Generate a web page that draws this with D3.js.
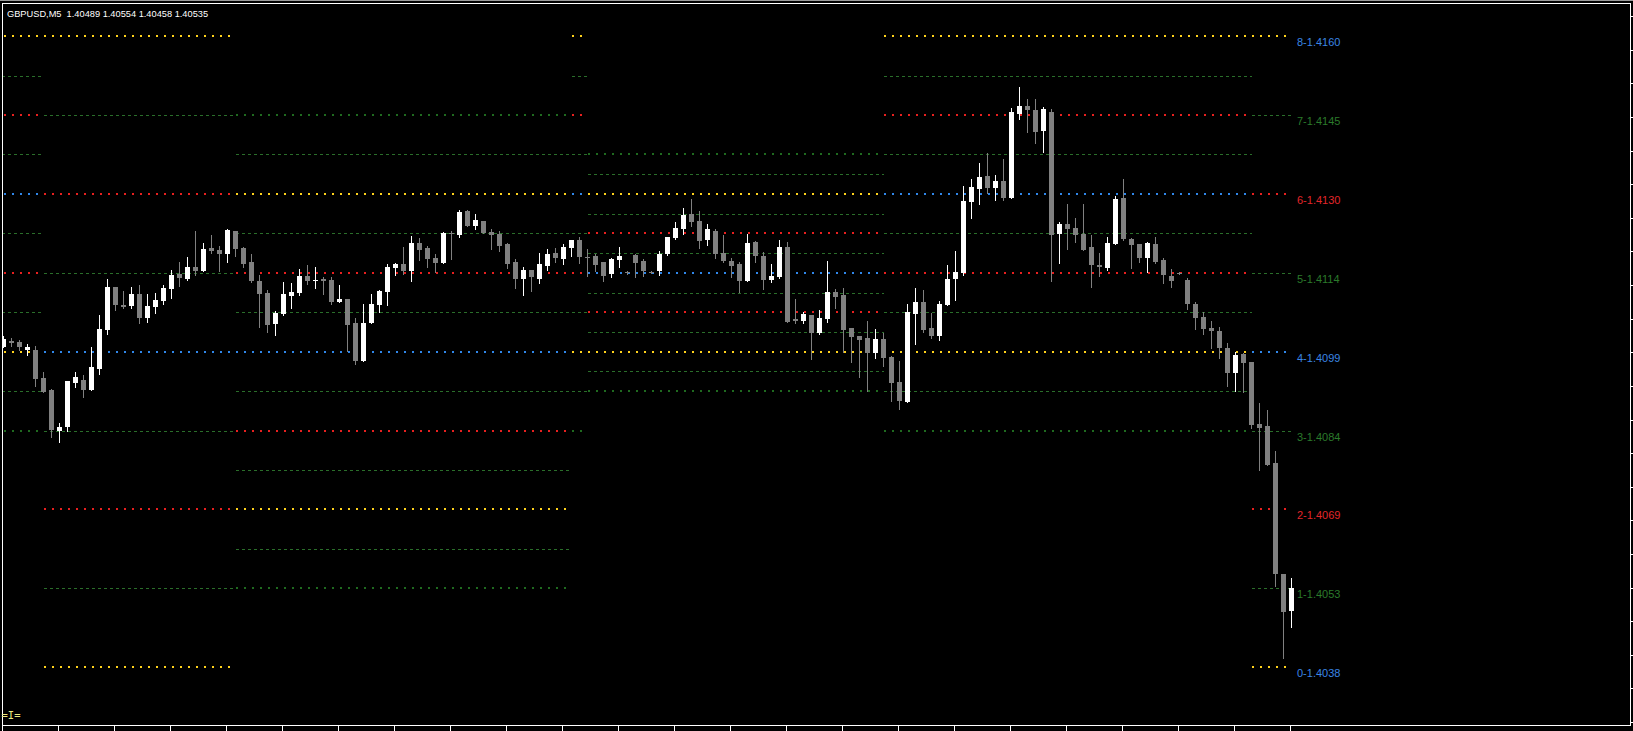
<!DOCTYPE html>
<html><head><meta charset="utf-8">
<script src="https://cdn.jsdelivr.net/npm/d3@7"></script>
<style>html,body{margin:0;padding:0;background:#000;overflow:hidden}</style>
</head><body>
<svg id="c" width="1633" height="731"></svg>
<script>
const chartTitle = "GBPUSD,M5  1.40489 1.40554 1.40458 1.40535";

const open = [1.41001,1.41011,1.41010,1.40995,1.40995,1.40941,1.40917,1.40837,1.40846,1.40931,
1.40937,1.40917,1.40958,1.41033,1.41117,1.41082,1.41080,1.41103,1.41057,1.41078,
1.41090,1.41113,1.41142,1.41132,1.41155,1.41148,1.41192,1.41188,1.41180,1.41225,
1.41192,1.41165,1.41128,1.41105,1.41045,1.41064,1.41099,1.41105,1.41138,1.41128,
1.41132,1.41130,1.41088,1.41093,1.41047,1.40973,1.41047,1.41082,1.41107,1.41153,
1.41161,1.41148,1.41202,1.41192,1.41173,1.41163,1.41221,1.41217,1.41264,1.41235,
1.41244,1.41223,1.41219,1.41200,1.41165,1.41132,1.41149,1.41132,1.41157,1.41182,
1.41171,1.41192,1.41207,1.41175,1.41176,1.41165,1.41142,1.41169,1.41146,1.41179,
1.41167,1.41146,1.41148,1.41180,1.41211,1.41229,1.41258,1.41244,1.41207,1.41225,
1.41182,1.41167,1.41161,1.41128,1.41204,1.41176,1.41130,1.41136,1.41194,1.41055,
1.41051,1.41062,1.41028,1.41055,1.41107,1.41101,1.41037,1.41022,1.41018,1.40989,
1.41016,1.40981,1.40933,1.40894,1.41064,1.41088,1.41037,1.41022,1.41082,1.41132,
1.41144,1.41281,1.41306,1.41331,1.41308,1.41322,1.41289,1.41451,1.41467,1.41459,
1.41418,1.41455,1.41219,1.41238,1.41231,1.41219,1.41194,1.41159,1.41153,1.41200,
1.41289,1.41209,1.41200,1.41173,1.41200,1.41169,1.41138,1.41144,1.41130,1.41084,
1.41059,1.41037,1.41031,1.40999,1.40950,1.40987,1.40972,1.40852,1.40848,1.40776,
1.40562,1.40489];

const high = [1.41022,1.41017,1.41013,1.41006,1.41002,1.40951,1.40920,1.40853,1.40935,1.40952,
1.40946,1.41000,1.41062,1.41132,1.41117,1.41109,1.41117,1.41120,1.41103,1.41105,
1.41120,1.41149,1.41165,1.41175,1.41225,1.41202,1.41217,1.41196,1.41229,1.41225,
1.41194,1.41180,1.41140,1.41111,1.41070,1.41126,1.41124,1.41151,1.41159,1.41155,
1.41136,1.41136,1.41120,1.41093,1.41057,1.41084,1.41103,1.41111,1.41161,1.41163,
1.41194,1.41215,1.41211,1.41196,1.41180,1.41223,1.41225,1.41265,1.41265,1.41258,
1.41244,1.41229,1.41225,1.41202,1.41171,1.41155,1.41149,1.41182,1.41190,1.41192,
1.41200,1.41207,1.41213,1.41190,1.41180,1.41165,1.41173,1.41194,1.41148,1.41180,
1.41171,1.41148,1.41186,1.41213,1.41242,1.41269,1.41287,1.41264,1.41238,1.41229,
1.41217,1.41173,1.41165,1.41219,1.41206,1.41184,1.41161,1.41207,1.41204,1.41093,
1.41068,1.41062,1.41072,1.41167,1.41113,1.41115,1.41037,1.41022,1.41051,1.41035,
1.41028,1.40983,1.40973,1.41084,1.41115,1.41111,1.41066,1.41090,1.41159,1.41186,
1.41312,1.41325,1.41356,1.41376,1.41333,1.41364,1.41463,1.41503,1.41480,1.41480,
1.41465,1.41461,1.41242,1.41277,1.41250,1.41277,1.41217,1.41182,1.41213,1.41293,
1.41325,1.41211,1.41200,1.41204,1.41213,1.41173,1.41151,1.41146,1.41134,1.41088,
1.41068,1.41051,1.41039,1.41008,1.40991,1.40989,1.40972,1.40892,1.40879,1.40799,
1.40562,1.40554];

const low = [1.41000,1.41003,1.40995,1.40984,1.40925,1.40914,1.40827,1.40817,1.40837,1.40922,
1.40904,1.40917,1.40948,1.41026,1.41072,1.41076,1.41075,1.41047,1.41049,1.41066,
1.41084,1.41095,1.41118,1.41130,1.41140,1.41148,1.41183,1.41148,1.41165,1.41176,
1.41155,1.41126,1.41039,1.41030,1.41024,1.41062,1.41076,1.41101,1.41122,1.41115,
1.41103,1.41084,1.41088,1.40993,1.40968,1.40973,1.41047,1.41068,1.41082,1.41140,
1.41142,1.41128,1.41169,1.41155,1.41146,1.41163,1.41171,1.41213,1.41235,1.41229,
1.41221,1.41190,1.41186,1.41153,1.41115,1.41101,1.41109,1.41124,1.41149,1.41165,
1.41161,1.41176,1.41163,1.41138,1.41148,1.41128,1.41136,1.41155,1.41142,1.41136,
1.41138,1.41143,1.41140,1.41178,1.41209,1.41219,1.41235,1.41192,1.41198,1.41173,
1.41165,1.41136,1.41107,1.41128,1.41165,1.41113,1.41126,1.41134,1.41049,1.41047,
1.41047,1.40977,1.41026,1.41049,1.41076,1.40991,1.40972,1.40943,1.40916,1.40979,
1.40964,1.40896,1.40881,1.40894,1.41006,1.41030,1.41018,1.41014,1.41082,1.41091,
1.41140,1.41250,1.41277,1.41298,1.41285,1.41285,1.41289,1.41441,1.41416,1.41395,
1.41378,1.41128,1.41163,1.41190,1.41204,1.41188,1.41117,1.41138,1.41149,1.41200,
1.41207,1.41153,1.41165,1.41146,1.41163,1.41124,1.41117,1.41141,1.41074,1.41035,
1.41026,1.40999,1.40979,1.40925,1.40916,1.40913,1.40844,1.40763,1.40772,1.40538,
1.40398,1.40458];

const close = [1.41016,1.41009,1.41000,1.41000,1.40939,1.40914,1.40839,1.40846,1.40935,1.40942,
1.40917,1.40962,1.41035,1.41117,1.41082,1.41078,1.41103,1.41057,1.41080,1.41091,
1.41115,1.41140,1.41134,1.41155,1.41148,1.41190,1.41186,1.41180,1.41227,1.41190,
1.41161,1.41128,1.41103,1.41043,1.41066,1.41103,1.41107,1.41138,1.41128,1.41130,
1.41128,1.41088,1.41093,1.41043,1.40973,1.41047,1.41084,1.41109,1.41155,1.41161,
1.41148,1.41202,1.41188,1.41171,1.41163,1.41221,1.41219,1.41262,1.41235,1.41246,
1.41221,1.41217,1.41196,1.41161,1.41132,1.41149,1.41136,1.41161,1.41180,1.41173,
1.41194,1.41207,1.41175,1.41173,1.41159,1.41138,1.41171,1.41176,1.41144,1.41163,
1.41148,1.41145,1.41180,1.41213,1.41231,1.41256,1.41242,1.41205,1.41229,1.41180,
1.41167,1.41157,1.41128,1.41202,1.41176,1.41130,1.41138,1.41194,1.41049,1.41051,
1.41064,1.41028,1.41057,1.41107,1.41097,1.41033,1.41020,1.41014,1.40989,1.41016,
1.40979,1.40931,1.40896,1.41068,1.41088,1.41033,1.41022,1.41084,1.41132,1.41146,
1.41283,1.41310,1.41329,1.41308,1.41322,1.41289,1.41455,1.41467,1.41459,1.41416,
1.41461,1.41217,1.41238,1.41229,1.41217,1.41188,1.41159,1.41155,1.41202,1.41287,
1.41209,1.41198,1.41173,1.41202,1.41165,1.41140,1.41128,1.41143,1.41084,1.41057,
1.41035,1.41031,1.40999,1.40950,1.40985,1.40970,1.40850,1.40844,1.40772,1.40562,
1.40488,1.40535];

// Murrey Math windows (bar ranges, 0/8 level, step, lowest and highest level index)
const mmFrom  = [-1, 5, 29, 71, 73, 110, 156];
const mmTo    = [5, 29, 71, 73, 110, 156, 161];
const mmZero  = [1.4099121, 1.4038086, 1.4068604, 1.4099121, 1.4099121, 1.4099121, 1.4038086];
const mmStep  = [0.00076294, 0.0015259, 0.00076294, 0.00076294, 0.00038147, 0.00076294, 0.0015259];
const mmLow   = [-2, 0, -2, -2, -2, -2, 0];
const mmHigh  = [8, 8, 10, 8, 10, 8, 8];

const levelLabels = ["0-1.4038","1-1.4053","2-1.4069","3-1.4084","4-1.4099","5-1.4114","6-1.4130","7-1.4145","8-1.4160"];
const priceTicks = [1.41640,1.41575,1.41510,1.41445,1.41380,1.41315,1.41250,1.41185,1.41120,1.41055,1.40990,
  1.40925,1.40860,1.40795,1.40730,1.40665,1.40600,1.40535,1.40470,1.40405,1.40340,1.40275];
const timeTickBars = [0,7,14,21,28,35,42,49,56,63,70,77,84,91,98,105,112,119,126,133,140,147,154,161];

const svg = d3.select("#c");
const W = 1633, H = 731;
svg.append("rect").attr("width", W).attr("height", H).attr("fill", "#000");

const x = d3.scaleLinear().domain([0, 161]).range([3.5, 1291.5]);
const y = d3.scaleLinear().domain([1.4038086, 1.4160156]).range([667.3, 36.1]);

svg.append("clipPath").attr("id", "plot").append("rect").attr("x", 3).attr("y", 4).attr("width", 1627).attr("height", 721);
const g = svg.append("g").attr("clip-path", "url(#plot)");

function lvlStyle(k) {
  if (k === 0 || k === 8) return {c: "#ffd21c", w: 2, d: "2,6", dotted: true};
  if (k === 4) return {c: "#3087ea", w: 2, d: "2,6", dotted: true};
  if (k === 2 || k === 6) return {c: "#e8201f", w: 2, d: "2,6", dotted: true};
  if (k === -2 || k === 10) return {c: "#1f6a1f", w: 2, d: "2,6", dotted: true};
  return {c: "#2a6e2a", w: 1, d: "3,3", dotted: false};
}

const segs = [];
mmFrom.forEach((f, wi) => {
  for (let k = mmLow[wi]; k <= mmHigh[wi]; k++) {
    segs.push({x1: mmFrom[wi], x2: mmTo[wi], p: mmZero[wi] + k * mmStep[wi], k: k, wi: wi});
  }
});
g.append("g").selectAll("line").data(segs).join("line")
  .attr("x1", d => x(d.x1)).attr("x2", d => x(d.x2))
  .attr("y1", d => { const s = lvlStyle(d.k); const v = Math.round(y(d.p)); return s.dotted ? v : v + 0.5; })
  .attr("y2", d => { const s = lvlStyle(d.k); const v = Math.round(y(d.p)); return s.dotted ? v : v + 0.5; })
  .attr("stroke", d => lvlStyle(d.k).c)
  .attr("stroke-width", d => lvlStyle(d.k).w)
  .attr("stroke-dasharray", d => lvlStyle(d.k).d)
  .attr("shape-rendering", "crispEdges");

// candles
const bars = open.map((o, i) => ({i, o, h: high[i], l: low[i], c: close[i]}));
const cg = g.append("g").attr("shape-rendering", "crispEdges");
cg.selectAll("rect.wick").data(bars).join("rect").attr("class", "wick")
  .attr("x", d => x(d.i) - 0.5).attr("width", 1)
  .attr("y", d => Math.round(y(d.h)))
  .attr("height", d => Math.max(1, Math.round(y(d.l)) - Math.round(y(d.h)) + 1))
  .attr("fill", d => d.c >= d.o ? "#ffffff" : "#808080");
cg.selectAll("rect.body").data(bars).join("rect").attr("class", "body")
  .attr("x", d => x(d.i) - 2.5).attr("width", 5)
  .attr("y", d => Math.round(y(Math.max(d.o, d.c))))
  .attr("height", d => Math.max(1, Math.round(y(Math.min(d.o, d.c))) - Math.round(y(Math.max(d.o, d.c)))))
  .attr("fill", d => d.c >= d.o ? "#ffffff" : "#808080");

// labels of the last window
const lastW = mmFrom.length - 1;
const labColor = k => (k % 4 === 0) ? "#3a86e4" : (k % 2 === 0 ? "#e2262a" : "#2b7a2b");
svg.append("g").selectAll("text").data(levelLabels).join("text")
  .attr("x", x(mmTo[lastW]) + 5.5)
  .attr("y", (d, k) => Math.round(y(mmZero[lastW] + k * mmStep[lastW])) + 10)
  .attr("fill", (d, k) => labColor(k))
  .attr("font-family", "'Liberation Sans', Arial, sans-serif")
  .attr("font-size", 11)
  .text(d => d);

// frame
const fr = svg.append("g").attr("shape-rendering", "crispEdges");
fr.append("rect").attr("x", 0).attr("y", 0).attr("width", W).attr("height", 1).attr("fill", "#9a9a9a");
fr.append("line").attr("x1", 2).attr("x2", 1631).attr("y1", 3.5).attr("y2", 3.5).attr("stroke", "#fff");
fr.append("line").attr("x1", 2.5).attr("x2", 2.5).attr("y1", 3).attr("y2", 726).attr("stroke", "#fff");
fr.append("line").attr("x1", 1630.5).attr("x2", 1630.5).attr("y1", 3).attr("y2", 726).attr("stroke", "#fff");
fr.append("line").attr("x1", 2).attr("x2", 1631).attr("y1", 725.5).attr("y2", 725.5).attr("stroke", "#fff");
fr.selectAll("line.pt").data(priceTicks).join("line").attr("class", "pt")
  .attr("x1", 1631).attr("x2", 1633)
  .attr("y1", d => Math.round(y(d)) + 0.5).attr("y2", d => Math.round(y(d)) + 0.5)
  .attr("stroke", "#fff");
fr.selectAll("line.tt").data(timeTickBars).join("line").attr("class", "tt")
  .attr("x1", d => x(d) - 1).attr("x2", d => x(d) - 1)
  .attr("y1", 726).attr("y2", 731).attr("stroke", "#fff");

// title
svg.append("text").attr("x", 7).attr("y", 16.5)
  .attr("fill", "#ffffff").attr("font-family", "'Liberation Sans', Arial, sans-serif")
  .attr("font-size", 9.25).attr("xml:space", "preserve").style("white-space", "pre")
  .text(chartTitle);

svg.append("text").attr("x", 1.5).attr("y", 719)
  .attr("fill", "#ecea80").attr("font-family", "'DejaVu Sans Mono', monospace")
  .attr("font-size", 10.5).text("=I=");
</script>
</body></html>
